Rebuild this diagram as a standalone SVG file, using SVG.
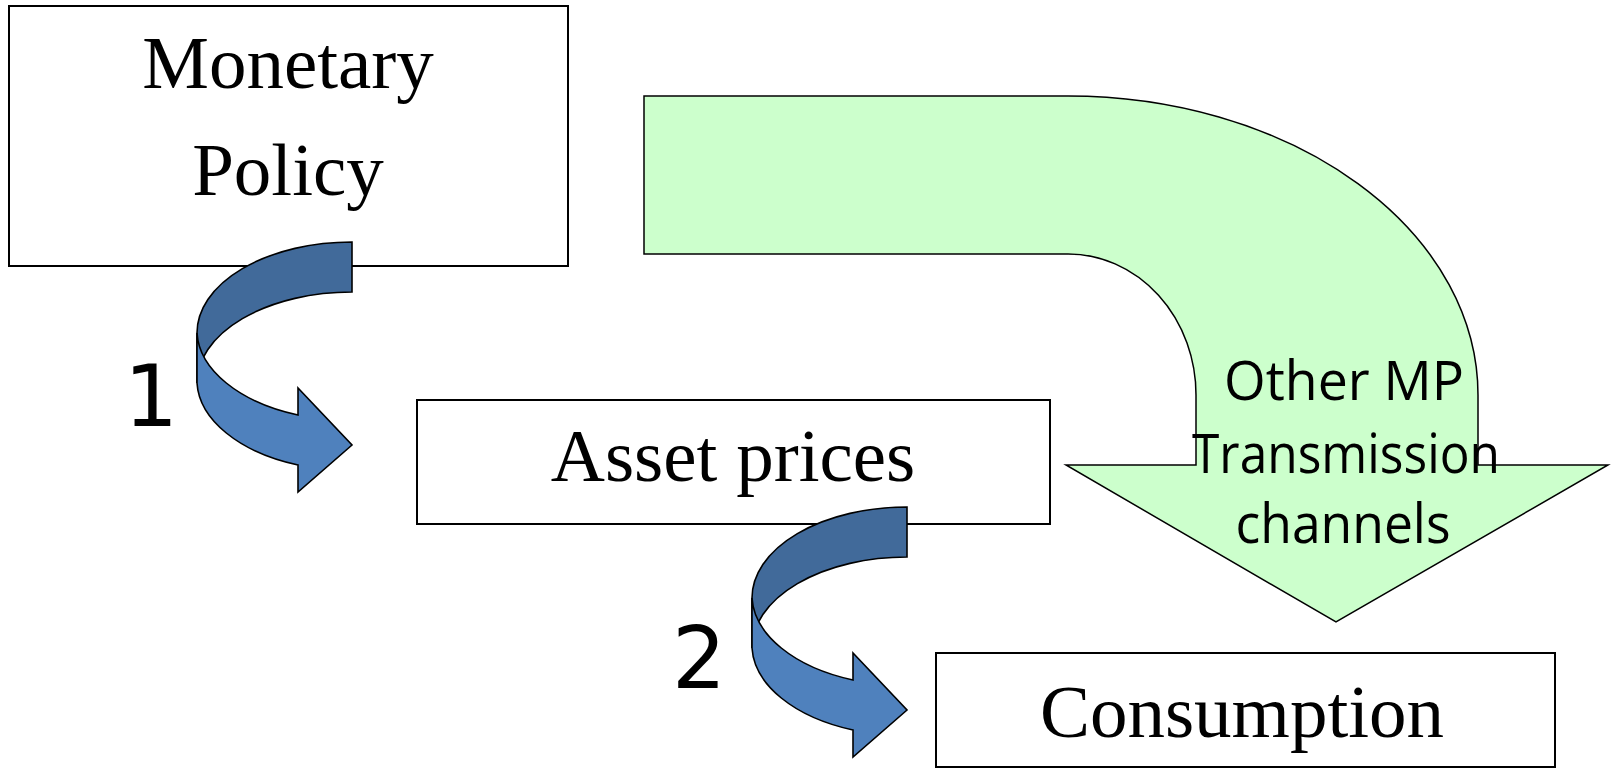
<svg xmlns="http://www.w3.org/2000/svg" width="1611" height="769" viewBox="0 0 1611 769">
  <style>
    .box { fill: #ffffff; stroke: #000000; stroke-width: 2; }
    .serif { font-family: "Liberation Serif", "Times New Roman", serif; font-size: 75px; fill: #000000; text-anchor: middle; }
    .sans { font-family: "Open Sans", "Liberation Sans", sans-serif; font-size: 54px; fill: #000000; text-anchor: middle; }
    .num { font-family: "DejaVu Sans", "Liberation Sans", sans-serif; font-size: 85px; fill: #000000; text-anchor: middle; }
    .back { fill: #416A9A; stroke: #000000; stroke-width: 1.6; stroke-linejoin: miter; }
    .front { fill: #4F81BD; stroke: #000000; stroke-width: 1.6; stroke-linejoin: miter; }
    .wide { fill: #CCFFCC; stroke: #000000; stroke-width: 1.5; }
  </style>
  <defs>
    <!-- curved down-and-right ribbon arrow, tail at the top right -->
    <g id="curl">
      <path class="back" d="M352,242 A155,91 0 0 0 197,333 L197,383 A155,91 0 0 1 352,292 Z"/>
      <path class="front" d="M197,333 L197,383 A155,91 0 0 0 298,465 L298,492 L352,445 L298,388 L298,415 A155,91 0 0 1 197,333 Z"/>
    </g>
  </defs>

  <g id="monetary-policy">
    <rect class="box" x="9" y="6" width="559" height="260"/>
    <text class="serif" x="288" y="88">Monetary</text>
    <text class="serif" x="288" y="195">Policy</text>
  </g>

  <g id="asset-prices">
    <rect class="box" x="417" y="400" width="633" height="124"/>
    <text class="serif" x="733" y="481">Asset prices</text>
  </g>

  <g id="consumption">
    <rect class="box" x="936" y="653" width="619" height="114"/>
    <text class="serif" x="1242" y="737">Consumption</text>
  </g>

  <g id="connectors">
    <g id="link-1">
      <use href="#curl"/>
      <text class="num" x="151" y="426">1</text>
    </g>
    <g id="link-2">
      <use href="#curl" transform="translate(555,265)"/>
      <text class="num" x="699" y="688">2</text>
    </g>
    <g id="other-channels">
      <path class="wide" d="M644,96 L1068,96 A410,299 0 0 1 1478,395 L1478,465 L1608,465 L1336,622 L1066,465 L1196,465 L1196,395 A128,141 0 0 0 1068,254 L644,254 Z"/>
      <text class="sans" x="1344" y="400" textLength="240" lengthAdjust="spacingAndGlyphs">Other MP</text>
      <text class="sans" x="1346" y="473" textLength="308" lengthAdjust="spacingAndGlyphs">Transmission</text>
      <text class="sans" x="1343" y="543" textLength="215" lengthAdjust="spacingAndGlyphs">channels</text>
    </g>
  </g>
</svg>
